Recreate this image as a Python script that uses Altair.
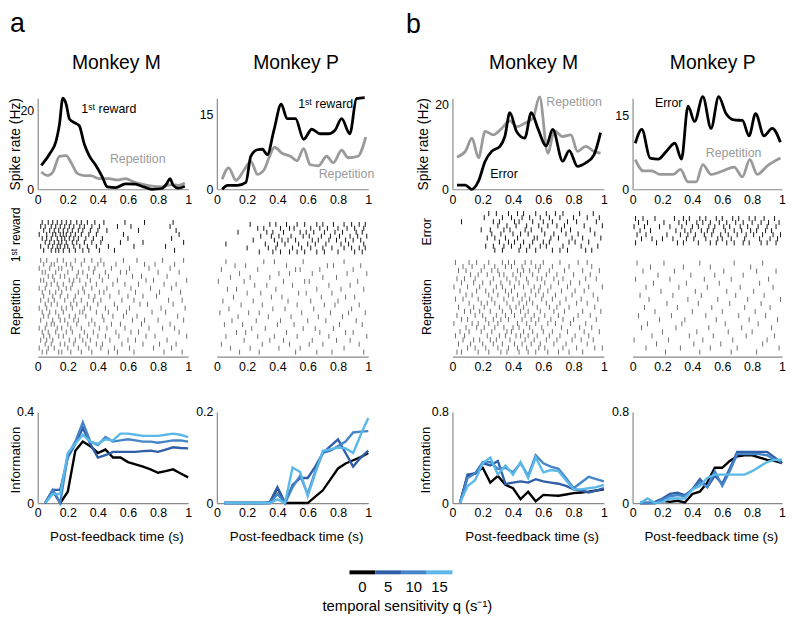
import altair as alt
import pandas as pd

FONT = "Liberation Sans"
W, H = 786, 612
OFF = 8

# ---------------- data ----------------
# spike rate (Hz) vs post-feedback time (s)
AM_BLACK_T = [0.024, 0.079, 0.123, 0.145, 0.167, 0.189, 0.211, 0.243, 0.276, 0.309, 0.342, 0.386, 0.43, 0.463,
              0.518, 0.583, 0.649, 0.704, 0.759, 0.825, 0.857, 0.879, 0.901, 0.934, 0.978]
AM_BLACK_V = [6.1, 9, 12.4, 16.6, 23.2, 21.7, 17.9, 17, 16.2, 11.6, 8.6, 6.1, 3.1, 0.6, 0.4, 1.4, 1.3, 0.6, 0,
              0.2, 1.4, 2.7, 1.0, 0.3, 0.8]
AM_GRAY_T = [0.024, 0.068, 0.101, 0.145, 0.189, 0.221, 0.265, 0.309, 0.353, 0.408, 0.474, 0.529, 0.583, 0.638,
             0.693, 0.759, 0.825, 0.89, 0.934, 0.978]
AM_GRAY_V = [4.4, 3.5, 4.4, 8.4, 8.6, 6.9, 4.0, 3.5, 3.5, 2.7, 2.7, 2.4, 2.7, 1.9, 1.3, 0.8, 0.6, 1.2, 1.0, 1.6]

AP_BLACK_T = [0.035, 0.072, 0.137, 0.192, 0.224, 0.268, 0.301, 0.333, 0.377, 0.425, 0.464, 0.519, 0.573, 0.627,
              0.682, 0.736, 0.78, 0.824, 0.878, 0.922, 0.976]
AP_BLACK_V = [0, 0.8, 0.8, 1.4, 6.6, 7.9, 8.0, 6.9, 11.8, 17.0, 14.1, 14.1, 10.0, 12.0, 11.1, 11.1, 11.8, 14.1,
              11.1, 18.1, 18.3]
AP_GRAY_T = [0.035, 0.078, 0.126, 0.181, 0.224, 0.268, 0.312, 0.344, 0.381, 0.431, 0.486, 0.529, 0.573, 0.617,
             0.671, 0.725, 0.769, 0.824, 0.867, 0.932, 0.983]
AP_GRAY_V = [2.0, 4.3, 1.8, 3.9, 5.6, 3.0, 3.9, 6.3, 8.4, 7.2, 6.6, 5.7, 8.1, 4.9, 4.7, 6.6, 5.3, 7.8, 6.3, 6.6, 10.4]

BM_BLACK_T = [0.03, 0.085, 0.129, 0.172, 0.216, 0.259, 0.314, 0.346, 0.379, 0.423, 0.477, 0.521, 0.564, 0.619,
              0.662, 0.728, 0.771, 0.826, 0.88, 0.935, 0.978]
BM_BLACK_V = [1.0, 1.0, 0, 1.9, 6.6, 8.9, 10.1, 12.4, 18.0, 13.6, 12.0, 18.0, 14.3, 10.2, 14.1, 6.6, 9.1, 5.4,
              6.2, 8.1, 13.3]
BM_GRAY_T = [0.03, 0.085, 0.129, 0.172, 0.216, 0.27, 0.325, 0.379, 0.423, 0.477, 0.532, 0.575, 0.63, 0.673, 0.728,
             0.782, 0.826, 0.88, 0.935, 0.978]
BM_GRAY_V = [7.6, 8.9, 12.0, 7.4, 13.6, 12.8, 14.3, 16.1, 14.7, 15.5, 16.7, 21.7, 8.5, 13.7, 12.4, 12.8, 8.9, 10.1,
             8.9, 8.5]

BP_BLACK_T = [0.018, 0.062, 0.117, 0.172, 0.227, 0.283, 0.327, 0.371, 0.415, 0.47, 0.525, 0.576, 0.625, 0.68,
              0.735, 0.779, 0.823, 0.879, 0.934, 0.989]
BP_BLACK_V = [9.3, 12.1, 6.3, 6.1, 7.7, 9.3, 6.1, 16.8, 13.7, 18.7, 12.3, 18.7, 15.3, 14.0, 13.9, 10.8, 15.3, 10.8,
              12.3, 9.5]
BP_GRAY_T = [0.018, 0.073, 0.128, 0.183, 0.272, 0.32, 0.371, 0.426, 0.47, 0.525, 0.603, 0.68, 0.735, 0.784, 0.834,
             0.9, 0.989]
BP_GRAY_V = [6.0, 3.7, 3.7, 3.0, 3.0, 4.0, 1.5, 1.5, 5.0, 3.0, 3.7, 4.5, 2.5, 6.0, 3.0, 4.7, 6.3]

# information vs post-feedback time, for q = 0, 5, 10, 15
INFO_T = [0.05, 0.1, 0.15, 0.2, 0.25, 0.3, 0.35, 0.4, 0.45, 0.5, 0.55, 0.6, 0.65, 0.7, 0.75, 0.8, 0.85, 0.9,
          0.95, 1.0]
AM_INFO = [
    [0, 0.055, 0, 0.05, 0.23, 0.27, 0.25, 0.22, 0.235, 0.2, 0.2, 0.18, 0.17, 0.16, 0.148, 0.133, 0.14, 0.148, 0.13, 0.113],
    [0, 0.058, 0.058, 0.2, 0.26, 0.33, 0.26, 0.2, 0.21, 0.225, 0.225, 0.225, 0.225, 0.228, 0.23, 0.225, 0.235, 0.245, 0.242, 0.24],
    [0, 0.058, 0.0, 0.21, 0.27, 0.355, 0.27, 0.255, 0.29, 0.27, 0.275, 0.28, 0.275, 0.27, 0.27, 0.265, 0.27, 0.275, 0.275, 0.27],
    [0, 0.04, 0.04, 0.22, 0.26, 0.3, 0.27, 0.26, 0.28, 0.275, 0.305, 0.305, 0.3, 0.295, 0.295, 0.295, 0.3, 0.305, 0.3, 0.29],
]
AP_INFO = [
    [0, 0, 0, 0, 0, 0, 0, 0.033, 0, 0, 0, 0, 0.014, 0.028, 0.052, 0.076, 0.087, 0.094, 0.101, 0.11],
    [0, 0, 0, 0, 0, 0, 0.002, 0.035, 0, 0.04, 0.055, 0.055, 0.08, 0.11, 0.125, 0.14, 0.11, 0.08, 0.1, 0.115],
    [0, 0, 0, 0, 0, 0, 0, 0.02, 0, 0.035, 0.06, 0.02, 0.07, 0.11, 0.115, 0.125, 0.135, 0.155, 0.157, 0.158],
    [0, 0, 0, 0, 0, 0, 0, 0.008, 0, 0.078, 0.068, 0.015, 0.065, 0.115, 0.118, 0.122, 0.12, 0.11, 0.15, 0.187],
]
BM_INFO = [
    [0, 0.24, 0.26, 0.31, 0.18, 0.238, 0.16, 0.13, 0.035, 0.1, 0.015, 0.072, 0.068, 0.064, 0.075, 0.087, 0.093, 0.1, 0.11, 0.12],
    [0, 0.25, 0.26, 0.35, 0.33, 0.37, 0.168, 0.18, 0.19, 0.18, 0.21, 0.19, 0.18, 0.17, 0.15, 0.12, 0.11, 0.093, 0.11, 0.13],
    [0, 0.22, 0.26, 0.36, 0.36, 0.3, 0.31, 0.27, 0.35, 0.24, 0.42, 0.35, 0.32, 0.3, 0.22, 0.13, 0.18, 0.23, 0.21, 0.19],
    [0, 0.15, 0.2, 0.35, 0.4, 0.25, 0.33, 0.25, 0.36, 0.22, 0.4, 0.27, 0.29, 0.28, 0.2, 0.12, 0.12, 0.13, 0.14, 0.16],
]
BP_INFO = [
    [0, 0, 0, 0.02, 0.01, 0.02, 0.005, 0.08, 0.1, 0.18, 0.31, 0.31, 0.37, 0.41, 0.42, 0.42, 0.4, 0.38, 0.37, 0.35],
    [0, 0, 0.01, 0.04, 0.08, 0.09, 0.07, 0.12, 0.21, 0.14, 0.24, 0.17, 0.3, 0.45, 0.45, 0.45, 0.45, 0.45, 0.4, 0.35],
    [0, 0, 0, 0.03, 0.06, 0.07, 0.06, 0.12, 0.18, 0.14, 0.28, 0.15, 0.28, 0.43, 0.43, 0.43, 0.43, 0.42, 0.38, 0.37],
    [0, 0.04, 0, 0.01, 0.04, 0.04, 0.04, 0.12, 0.15, 0.22, 0.25, 0.25, 0.25, 0.25, 0.25, 0.28, 0.32, 0.36, 0.38, 0.38],
]
Q_VALUES = ["0", "5", "10", "15"]
Q_COLORS = ["#000000", "#2f5fa9", "#4585c8", "#5bb8e8"]

# raster spike times (hundredths of a second), one string per trial
AM_TOP = ["03 07 10 13 16 19 22 26 29 33 38 44 58 71 90", "02 05 09 12 15 18 21 24 28 31 36 41 53 62 88",
          "04 08 11 14 17 20 23 27 30 35 40 46 67 92", "01 06 10 12 15 17 19 22 25 29 34 39 57 94",
          "03 06 09 13 16 18 21 24 27 32 37 43 60 89", "05 08 11 14 16 19 23 26 31 36 42 55 70 97",
          "02 07 10 13 15 18 20 24 28 33 39 47 64 85", "04 09 12 14 17 21 25 30 34 41 51 91"]
AM_REP = ["02 06 13 17 25 31 36 42 57 66 83 97", "04 09 11 19 22 29 40 44 52 71 78 91",
          "01 08 14 16 23 34 38 49 61 74 88", "03 05 12 20 27 30 37 45 55 59 80 94",
          "07 10 15 18 26 33 41 47 63 69 86", "02 04 11 21 24 28 35 43 53 72 77 99",
          "06 09 13 17 23 32 39 50 58 67 84 92", "01 05 14 19 22 30 36 46 62 75 89",
          "03 08 12 16 27 31 41 44 54 65 81 95", "04 10 15 20 25 34 38 48 60 70 79",
          "02 07 11 18 24 29 37 42 56 64 87 96", "05 09 13 22 26 33 40 51 68 73 90",
          "01 06 16 19 23 31 35 45 53 61 82 98", "03 08 12 17 28 30 39 47 59 76 85",
          "04 07 14 21 25 32 43 50 57 66 93", "02 10 15 18 24 27 36 44 63 71 80 97",
          "06 09 11 20 26 34 38 49 55 69 88", "01 05 13 16 22 29 41 46 58 74 83 91",
          "03 07 12 19 23 31 37 52 62 67 94", "04 08 14 17 28 33 40 45 54 72 78 99",
          "02 06 10 21 25 30 35 48 60 65 86", "05 09 15 18 24 32 39 43 56 70 81 92",
          "01 07 11 20 27 34 42 51 61 77 89", "03 06 14 16 22 29 36 47 53 64 84 96"]
AP_TOP = ["22 35 39 46 53 58 66 70 77 84 89 94 98", "27 31 42 48 51 62 68 73 80 86 91 97",
          "14 33 37 44 55 59 64 71 78 83 92 96", "29 36 41 49 57 61 69 75 81 88 93 99",
          "24 38 43 47 52 63 67 74 79 85 90 95", "06 32 40 45 54 60 65 72 82 87 97",
          "20 34 39 50 56 62 70 76 84 89 94 98", "28 37 42 48 53 58 66 71 80 91 96"]
AP_REP = ["06 31 38 57 84", "12 19 46 73 77 95", "03 27 52 55 68 90", "15 41 48 63 86 99", "09 22 35 70 79",
          "01 18 44 58 61 93", "25 33 50 74 88", "07 13 39 66 82 97", "20 29 54 59 76", "11 36 43 69 85 91",
          "04 24 47 62 80", "16 30 53 71 78 94", "08 37 45 64 89", "02 21 28 56 75 87 98", "14 34 49 67 83",
          "10 26 42 60 72 92", "05 17 40 51 81 96", "23 32 57 65 77", "13 19 46 68 85 90", "06 27 38 53 74 99",
          "18 35 44 63 79 88", "03 30 48 61 70 94", "09 22 41 55 84", "15 28 52 66 76 97"]
BM_TOP = ["24 29 37 43 47 55 62 68 73 84 93", "21 33 39 46 51 58 64 71 80 89 97",
          "06 27 31 41 44 53 60 66 76 82 95", "30 36 42 49 57 63 69 74 87 99",
          "19 25 34 38 48 52 59 72 78 91", "26 32 40 45 50 61 67 75 83 94",
          "23 28 35 43 54 56 65 70 79 86 98", "31 37 41 47 53 60 64 77 81 90",
          "22 27 34 39 45 51 58 62 73 85 96", "28 33 44 49 55 66 71 76 88 92"]
BM_REP = ["02 11 16 24 33 37 41 48 52 60 71 83 89", "07 13 21 28 35 39 46 55 58 66 77 92",
          "04 09 19 26 30 43 47 51 57 64 74 86 97", "12 17 23 31 34 40 45 53 62 69 80 91",
          "03 08 15 27 36 42 49 56 59 67 73 88 95", "06 14 20 25 32 38 44 50 61 70 78 84",
          "01 10 18 29 33 41 47 54 58 65 76 90 99", "05 16 22 27 35 39 52 57 63 72 81 87",
          "09 13 24 30 37 43 48 55 60 68 79 93", "02 07 17 26 34 40 46 51 59 66 75 85 96",
          "11 19 23 28 36 44 49 53 62 71 82 89", "04 14 21 31 38 42 47 56 64 69 77 94",
          "08 12 18 25 33 39 45 50 58 67 74 86 98", "03 15 20 29 35 41 48 54 61 70 83 91",
          "06 10 22 27 32 37 46 52 57 65 73 80 95", "01 13 17 24 30 43 49 55 63 68 78 88",
          "09 16 21 28 34 40 44 51 59 72 84 92", "05 11 19 26 36 39 47 53 60 66 76 87 97",
          "02 08 23 31 35 42 45 50 56 64 71 81 90", "07 14 18 25 29 38 48 54 62 69 79 85 93",
          "04 12 20 27 33 41 46 52 58 67 75 89", "10 15 22 30 37 43 49 57 61 73 82 94 99",
          "03 06 17 24 32 36 44 50 55 63 70 77 86"]
BP_TOP = ["02 07 15 28 34 38 45 49 56 60 67 71 78 82 88 95", "04 10 21 31 36 43 47 52 58 63 69 74 80 86 91 98",
          "01 08 18 25 33 40 44 51 55 61 65 72 77 84 90 96", "05 12 29 35 39 46 50 54 62 68 73 79 83 89 93",
          "03 09 23 32 37 42 48 53 59 64 70 76 81 87 94 99", "06 13 20 27 36 41 49 57 60 66 75 85 92 97",
          "02 16 30 34 44 52 56 63 68 74 78 86 90 96"]
BP_REP = ["03 21 45 68 87", "12 34 52 79", "07 28 61 83 96", "17 39 55 74", "02 25 48 66 91", "14 36 58 85",
          "09 31 50 72 94", "19 42 63 81", "05 27 46 69 88", "11 37 57 77 99", "23 44 65 86", "08 30 53 75 92",
          "15 40 60 82", "04 26 49 71 89", "18 35 56 78 97", "10 33 62 84", "06 29 51 73 93", "20 43 64 80",
          "13 38 54 76 95", "01 24 47 67 90", "16 41 59 87", "09 32 52 70 98", "22 45 66 83"]

# ---------------- layout ----------------
XR = {"aM": (38, 190), "aP": (219, 372), "bM": (457, 610), "bP": (639, 790)}
SPIKE_Y = (188, 96)
SPIKE_DOM = {"aM": 23.2, "aP": 18.2, "bM": 21.4, "bP": 18.4}
SPIKE_TICKS = {"aM": [0, 20], "aP": [0, 15], "bM": [0, 20], "bP": [0, 15]}
RASTER_Y = {"aM": (219, 354), "aP": (221, 354), "bM": (210, 354), "bP": (215, 354)}
RASTER_GAP = {"aM": 1.5, "aP": 1.5, "bM": 2, "bP": 4}
INFO_Y = (505, 413)
INFO_DOM = {"aM": 0.4, "aP": 0.2, "bM": 0.8, "bP": 0.8}
GRAY_LINE = "#9a9a9a"
AXIS_GRAY = "#8a8a8a"


def sx(key):
    x0, x1 = XR[key]
    return alt.Scale(domain=[0, 1], range=[x0 - OFF, x1 - OFF], nice=False, zero=False)


def sy(dom_max, yr):
    return alt.Scale(domain=[0, dom_max], range=[yr[0] - OFF, yr[1] - OFF], nice=False, zero=False)


AX = dict(ticks=False, grid=False, domainColor=AXIS_GRAY, domainWidth=1.2, labelFont=FONT, labelFontSize=12.5,
          labelColor="#000000", labelFlush=False, labelOverlap=False, labelExpr="toString(datum.value)")


def xaxis(key, ypage, title=None, title_dy=34):
    kw = dict(AX, orient="bottom", offset=(ypage - OFF) - H, values=[0, 0.2, 0.4, 0.6, 0.8, 1],
              labelPadding=4, labelAngle=0)
    if title:
        x0, x1 = XR[key]
        kw.update(title=title, titleX=(x0 + x1) / 2 + 3.5 - OFF, titleY=title_dy, titleFont=FONT,
                  titleFontSize=13.5, titleFontWeight="normal", titleColor="#000000",
                  titleBaseline="middle", titleAlign="center", titleAngle=0)
    else:
        kw["title"] = None
    return alt.Axis(**kw)


def yaxis(key, values, title=None, ymid=None, tx=-22, size=13.5):
    kw = dict(AX, orient="left", offset=-(XR[key][0] - OFF), values=values, labelPadding=4)
    if title:
        kw.update(title=title, titleX=tx, titleY=ymid - OFF, titleAngle=270, titleFont=FONT,
                  titleFontSize=size, titleFontWeight="normal", titleColor="#000000",
                  titleBaseline="middle", titleAlign="center")
    else:
        kw["title"] = None
    return alt.Axis(**kw)


def series_df(ts, vs, col, ser):
    return pd.DataFrame({"t": ts, "v": vs, "col": col, "ser": ser})


layers = []

spikes = {
    "aM": (AM_BLACK_T, AM_BLACK_V, AM_GRAY_T, AM_GRAY_V),
    "aP": (AP_BLACK_T, AP_BLACK_V, AP_GRAY_T, AP_GRAY_V),
    "bM": (BM_BLACK_T, BM_BLACK_V, BM_GRAY_T, BM_GRAY_V),
    "bP": (BP_BLACK_T, BP_BLACK_V, BP_GRAY_T, BP_GRAY_V),
}
for key, (bt, bv, gt, gv) in spikes.items():
    df = pd.concat([series_df(gt, gv, GRAY_LINE, "rep"), series_df(bt, bv, "#000000", "main")])
    if key in ("aM", "bM"):
        ya = yaxis(key, SPIKE_TICKS[key], "Spike rate (Hz)", 142, tx=-22 if key == "aM" else -29, size=14)
    else:
        ya = yaxis(key, SPIKE_TICKS[key])
    layers.append(
        alt.Chart(df).mark_line(strokeWidth=2.8, interpolate="monotone").encode(
            x=alt.X("t:Q", scale=sx(key), axis=xaxis(key, SPIKE_Y[0])),
            y=alt.Y("v:Q", scale=sy(SPIKE_DOM[key], SPIKE_Y), axis=ya),
            color=alt.Color("col:N", scale=None),
            detail="ser:N",
        )
    )

# annotations in spike panels
NOTES = [
    ("aM", 0.29, 20.5, "1ˢᵗ reward", "#000000", "left"),
    ("aM", 0.48, 7.6, "Repetition", GRAY_LINE, "left"),
    ("aP", 0.90, 17.0, "1ˢᵗ reward", "#000000", "right"),
    ("aP", 1.04, 3.0, "Repetition", GRAY_LINE, "right"),
    ("bM", 0.987, 20.5, "Repetition", GRAY_LINE, "right"),
    ("bM", 0.25, 3.5, "Error", "#000000", "left"),
    ("bP", 0.15, 17.4, "Error", "#000000", "left"),
    ("bP", 0.49, 7.4, "Repetition", GRAY_LINE, "left"),
]
for key, t, v, txt, col, align in NOTES:
    ndf = pd.DataFrame({"t": [t], "v": [v], "label": [txt]})
    layers.append(
        alt.Chart(ndf).mark_text(align=align, baseline="middle", font=FONT, fontSize=12.5, color=col).encode(
            x=alt.X("t:Q", scale=sx(key), axis=None),
            y=alt.Y("v:Q", scale=sy(SPIKE_DOM[key], SPIKE_Y), axis=None),
            text="label:N",
        )
    )


def parse(rows):
    return [[int(s) / 100 for s in r.split()] for r in rows]


rasters = {"aM": (AM_TOP, AM_REP), "aP": (AP_TOP, AP_REP), "bM": (BM_TOP, BM_REP), "bP": (BP_TOP, BP_REP)}
for key, (top, rep) in rasters.items():
    recs = []
    for i, r in enumerate(parse(top)):
        for t in r:
            recs.append({"t": t, "row": i, "row2": i + 1.25, "col": "#111111"})
    base = len(top) + RASTER_GAP[key]
    for j, r in enumerate(parse(rep)):
        for t in r:
            recs.append({"t": t, "row": base + j, "row2": base + j + 1.25, "col": "#6e6e6e"})
    total = base + len(rep)
    y0, y1 = RASTER_Y[key]
    layers.append(
        alt.Chart(pd.DataFrame(recs)).mark_rule(strokeWidth=1).encode(
            x=alt.X("t:Q", scale=sx(key), axis=xaxis(key, 357)),
            y=alt.Y("row:Q", scale=alt.Scale(domain=[0, total], range=[y0 - OFF, y1 - OFF], nice=False,
                                             zero=False), axis=None),
            y2="row2:Q",
            color=alt.Color("col:N", scale=None),
        )
    )

infos = {"aM": AM_INFO, "aP": AP_INFO, "bM": BM_INFO, "bP": BP_INFO}
for key, rows in infos.items():
    df = pd.concat([series_df(INFO_T, vals, Q_COLORS[k], Q_VALUES[k]) for k, vals in enumerate(rows)])
    if key in ("aM", "bM"):
        ya = yaxis(key, [0, INFO_DOM[key]], "Information", 461, tx=-22 if key == "aM" else -27, size=13.5)
    else:
        ya = yaxis(key, [0, INFO_DOM[key]])
    layers.append(
        alt.Chart(df).mark_line(strokeWidth=2.4).encode(
            x=alt.X("t:Q", scale=sx(key), axis=xaxis(key, INFO_Y[0], "Post-feedback time (s)", 34)),
            y=alt.Y("v:Q", scale=sy(INFO_DOM[key], INFO_Y), axis=ya),
            color=alt.Color("col:N", scale=None),
            detail="ser:N",
        )
    )


def label(xp, yp, txt, size, angle=0, align="center", baseline="middle"):
    ldf = pd.DataFrame({"label": [txt]})
    return alt.Chart(ldf).mark_text(align=align, baseline=baseline, font=FONT, fontSize=size, angle=angle,
                                    color="#000000").encode(
        x=alt.value(xp - OFF), y=alt.value(yp - OFF), text="label:N")


layers += [
    label(10, 29, "a", 27, align="left", baseline="alphabetic"),
    label(410, 30, "b", 27, align="left", baseline="alphabetic"),
    label(117.5, 66.5, "Monkey M", 19.5, baseline="alphabetic"),
    label(299, 66.5, "Monkey P", 19.5, baseline="alphabetic"),
    label(539, 66.5, "Monkey M", 19.5, baseline="alphabetic"),
    label(720, 66.5, "Monkey P", 19.5, baseline="alphabetic"),
    label(16, 234, "1ˢᵗ reward", 12.5, angle=270),
    label(16, 307, "Repetition", 12.5, angle=270),
    label(431, 231, "Error", 12.5, angle=270),
    label(431, 307, "Repetition", 12.5, angle=270),
]

cb_df = pd.DataFrame({"q": Q_VALUES, "col": Q_COLORS})
layers.append(
    alt.Chart(cb_df).mark_rect().encode(
        x=alt.X("q:N", sort=Q_VALUES,
                scale=alt.Scale(domain=Q_VALUES, range=[353 - OFF, 457 - OFF], paddingInner=0, paddingOuter=0),
                axis=alt.Axis(orient="bottom", offset=(577 - OFF) - H, ticks=False, domain=False, grid=False,
                              labelAngle=0, labelFont=FONT, labelFontSize=15, labelColor="#000000",
                              labelPadding=5, title="temporal sensitivity q (s⁻¹)", titleFont=FONT,
                              titleFontSize=15, titleFontWeight="normal", titleColor="#000000",
                              titleX=411 - OFF, titleY=614 - 577, titleBaseline="alphabetic",
                              titleAlign="center")),
        y=alt.value(573 - OFF),
        y2=alt.value(577 - OFF),
        color=alt.Color("col:N", scale=None),
    )
)

chart = alt.layer(*layers).resolve_scale(x="independent", y="independent").properties(
    width=W, height=H, autosize=alt.AutoSizeParams(type="none"), padding=0
).configure(font=FONT, background="white").configure_view(stroke=None, strokeWidth=0)

chart.save("out.html", embed_options={"renderer": "svg", "actions": False})
